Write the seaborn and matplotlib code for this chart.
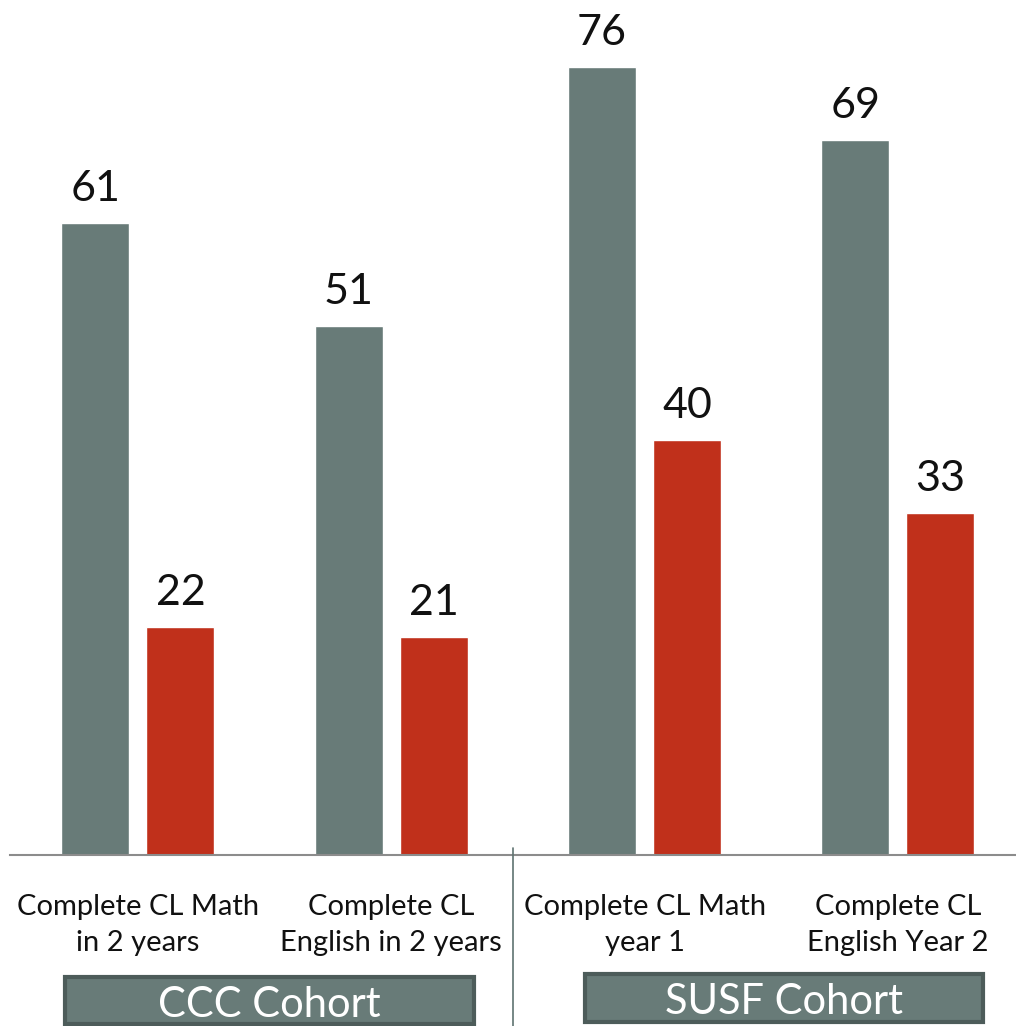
import matplotlib
matplotlib.use("Agg")
import matplotlib.pyplot as plt
import seaborn as sns
import pandas as pd
from matplotlib.patches import Rectangle
from matplotlib.lines import Line2D

# ---- data ----
categories = ["Complete CL Math\nin 2 years", "Complete CL\nEnglish in 2 years",
              "Complete CL Math\nyear 1", "Complete CL\nEnglish Year 2"]
series_names = ["Series 1", "Series 2"]
series_1 = [61, 51, 76, 69]
series_2 = [22, 21, 40, 33]
cohorts = ["CCC Cohort", "SUSF Cohort"]

GRAY = "#687b78"
RED = "#c0301b"
BORDER = "#4d5c5a"

sns.set_theme(style="white")
plt.rcParams["font.family"] = ["Lato", "DejaVu Sans"]

df = pd.DataFrame({
    "category": categories * 2,
    "value": series_1 + series_2,
    "series": [series_names[0]] * 4 + [series_names[1]] * 4,
})

fig = plt.figure(figsize=(10.16, 10.26), dpi=100)
ax = fig.add_axes([0.00984, 0.1667, 0.99016, 0.8333])
sns.barplot(data=df, x="category", y="value", hue="series", order=categories,
            palette=[GRAY, RED], width=0.671, gap=0.2, saturation=1,
            legend=False, ax=ax)

ax.set_xlim(-0.505, 3.466)
ax.set_ylim(0, 82.5)
ax.set_xlabel("")
ax.set_ylabel("")
ax.set_yticks([])
for s in ["top", "left", "right"]:
    ax.spines[s].set_visible(False)
ax.spines["bottom"].set_color("#8c8c8c")
ax.spines["bottom"].set_linewidth(1.5)
ax.tick_params(axis="x", length=0, pad=28, labelsize=21, colors="#111111")
for lbl in ax.get_xticklabels():
    lbl.set_linespacing(1.5)
    lbl.set_color("#111111")

for c in ax.containers:
    ax.bar_label(c, padding=11, fontsize=31, color="#111111")

# separator line
fig.add_artist(Line2D([0.505, 0.505], [0.0, 0.1735], transform=fig.transFigure,
                      color="#5f7371", lw=1.2))

# cohort boxes
boxes = [(0.064, 0.00195, 0.4025, 0.0458, 0.2653, 0.00877),
         (0.5758, 0.0039, 0.3917, 0.0468, 0.7717, 0.0117)]
for name, (x0, y0, w, h, tx, ty) in zip(cohorts, boxes):
    fig.add_artist(Rectangle((x0, y0), w, h, transform=fig.transFigure,
                             facecolor=GRAY, edgecolor=BORDER, lw=3))
    fig.text(tx, ty, name, ha="center", va="baseline", color="white", fontsize=30)

fig.savefig("out.png", dpi=100)
